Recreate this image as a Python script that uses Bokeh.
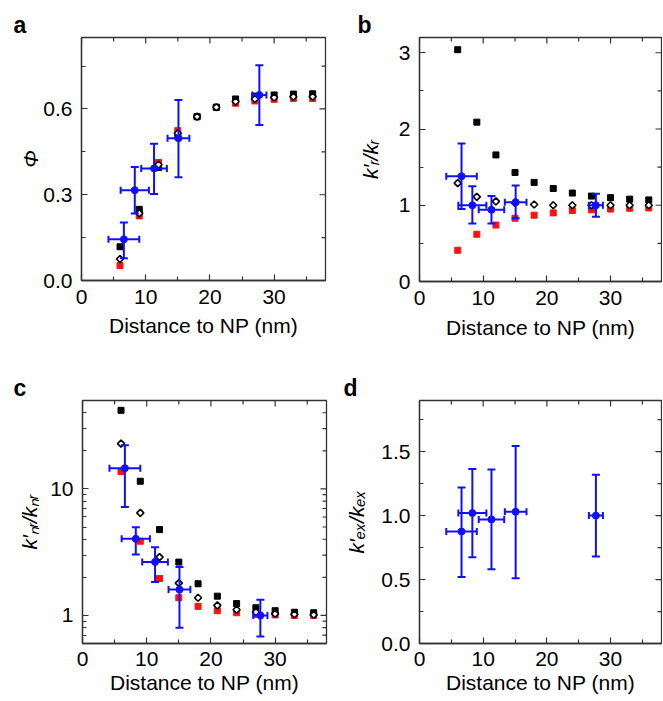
import numpy as np
from bokeh.plotting import figure
from bokeh.models import Range1d, FixedTicker, Whisker, TeeHead, ColumnDataSource
from bokeh.layouts import column, row
from bokeh.embed import file_html
from bokeh.resources import INLINE

# ---------------- data ----------------
dist = [6, 9, 12, 15, 18, 21, 24, 27, 30, 33, 36]

phi_black = [0.118, 0.249, 0.395, 0.504, 0.573, 0.606, 0.635, 0.645, 0.649, 0.652, 0.653]
phi_diamond = [0.075, 0.235, 0.405, 0.515, 0.573, 0.606, 0.626, 0.635, 0.640, 0.643, 0.643]
phi_red = [0.052, 0.226, 0.413, 0.524, 0.573, 0.606, 0.620, 0.628, 0.634, 0.637, 0.637]

kr_black = [3.04, 2.09, 1.66, 1.43, 1.30, 1.22, 1.16, 1.12, 1.10, 1.08, 1.07]
kr_diamond = [1.29, 1.11, 1.05, 1.03, 1.01, 1.00, 1.00, 1.00, 1.00, 1.00, 1.00]
kr_red = [0.41, 0.62, 0.74, 0.83, 0.87, 0.90, 0.93, 0.94, 0.95, 0.96, 0.965]

knr_black = [41.8, 11.5, 4.77, 2.64, 1.78, 1.42, 1.24, 1.15, 1.09, 1.06, 1.05]
knr_diamond = [22.8, 6.46, 2.89, 1.80, 1.38, 1.20, 1.11, 1.06, 1.03, 1.02, 1.01]
knr_red = [13.7, 3.86, 1.96, 1.38, 1.18, 1.09, 1.05, 1.02, 1.01, 1.00, 1.00]

exp_x = [6.6, 8.3, 11.3, 15.1, 27.7]
exp_xerr = [2.4, 2.2, 2.0, 1.7, 1.1]

phi_exp = [0.144, 0.316, 0.392, 0.498, 0.649]
phi_exp_lo = [0.078, 0.234, 0.303, 0.361, 0.544]
phi_exp_hi = [0.203, 0.397, 0.478, 0.631, 0.753]

kr_exp = [1.38, 1.00, 0.94, 1.04, 1.00]
kr_exp_lo = [0.95, 0.76, 0.76, 0.83, 0.85]
kr_exp_hi = [1.81, 1.25, 1.12, 1.26, 1.15]

knr_exp = [14.6, 4.03, 2.65, 1.60, 1.00]
knr_exp_lo = [7.2, 3.03, 1.84, 0.80, 0.68]
knr_exp_hi = [22.1, 4.98, 3.46, 2.42, 1.33]

kex_exp = [0.875, 1.02, 0.97, 1.03, 1.00]
kex_exp_lo = [0.52, 0.675, 0.58, 0.51, 0.68]
kex_exp_hi = [1.22, 1.365, 1.36, 1.545, 1.32]

x_ticks = [0, 10, 20, 30]
x_minor = [5, 15, 25, 35]
a_ticks = [0.0, 0.3, 0.6]
a_tick_labels = ["0.0", "0.3", "0.6"]
a_minor = [0.15, 0.45, 0.75]
b_ticks = [0, 1, 2, 3]
b_tick_labels = ["0", "1", "2", "3"]
b_minor = [0.5, 1.5, 2.5]
c_ticks = [1, 10]
c_tick_labels = ["1", "10"]
c_minor = [0.6, 0.7, 0.8, 0.9, 2, 3, 4, 5, 6, 7, 8, 9, 20, 30, 40, 50]
d_ticks = [0.0, 0.5, 1.0, 1.5]
d_tick_labels = ["0.0", "0.5", "1.0", "1.5"]
d_minor = [0.25, 0.75, 1.25, 1.75]

# ---------------- style ----------------
FONT = "Liberation Sans"
BLUE = "#1010ff"
RED = "#ff1010"
AXC = "#333333"
XLAB = "Distance to NP (nm)"
X_END = 38


def style_axis(ax, standoff):
    ax.axis_line_color = AXC
    ax.axis_line_width = 1.3
    ax.major_tick_line_color = AXC
    ax.minor_tick_line_color = AXC
    ax.major_tick_line_width = 1.2
    ax.minor_tick_line_width = 1.2
    ax.major_tick_in = 6
    ax.major_tick_out = 0
    ax.minor_tick_in = 4
    ax.minor_tick_out = 0
    ax.major_label_text_font = FONT
    ax.major_label_text_color = "black"
    ax.major_label_text_font_size = "21px"
    ax.major_label_standoff = standoff
    ax.axis_label_text_font = FONT
    ax.axis_label_text_color = "black"
    ax.axis_label_text_font_size = "21px"


def mirror_ticks(p, yt, ym):
    """Inward ticks on the top and right frame edges (dash markers clipped by the frame)."""
    ytop = p.y_range.end
    p.scatter(x_ticks, [ytop] * len(x_ticks), marker="dash", angle=np.pi / 2,
              size=12, line_color=AXC, line_width=1.2)
    p.scatter(x_minor, [ytop] * len(x_minor), marker="dash", angle=np.pi / 2,
              size=8, line_color=AXC, line_width=1.2)
    p.scatter([X_END] * len(yt), yt, marker="dash", size=12, line_color=AXC, line_width=1.2)
    p.scatter([X_END] * len(ym), ym, marker="dash", size=8, line_color=AXC, line_width=1.2)


def make_panel(letter, letter_off, yr, ylog, yt, ytl, ym, fw, fh, bl, br, bt, bb,
               ylabel, ylab_standoff, x_std, xlab_std):
    p = figure(frame_width=fw, frame_height=fh,
               min_border_left=bl, min_border_right=br,
               min_border_top=bt, min_border_bottom=bb,
               x_range=Range1d(0, X_END), y_range=Range1d(*yr),
               y_axis_type="log" if ylog else "linear",
               output_backend="svg", toolbar_location=None)
    p.grid.visible = False
    p.outline_line_color = AXC
    p.outline_line_width = 1.3
    p.background_fill_color = "white"
    p.border_fill_color = "white"

    xa = p.below[0]
    ya = p.left[0]
    xa.ticker = FixedTicker(ticks=x_ticks, minor_ticks=x_minor)
    ya.ticker = FixedTicker(ticks=yt, minor_ticks=ym)
    ya.major_label_overrides = {t: l for t, l in zip(yt, ytl)}
    style_axis(xa, x_std)
    style_axis(ya, 9)
    ya.axis_label = ylabel
    ya.axis_label_text_font_style = "italic"
    ya.axis_label_standoff = ylab_standoff
    xa.axis_label = XLAB
    xa.axis_label_text_font_style = "normal"
    xa.axis_label_standoff = xlab_std

    p.title.text = letter
    p.title.align = "left"
    p.title.offset = letter_off
    p.title.standoff = 0
    p.title.text_font = FONT
    p.title.text_font_style = "bold"
    p.title.text_font_size = "23px"
    p.title.text_color = "black"

    mirror_ticks(p, yt, ym)
    return p


def add_model(p, yb, yd, yr_):
    p.scatter(dist, yr_, marker="square", size=6, color=RED)
    p.scatter(dist, yb, marker="square", size=6, color="black")
    p.scatter(dist, yd, marker="square", angle=np.pi / 4, size=5,
              fill_color="white", line_color="black", line_width=1.6)


def add_exp(p, y, lo, hi):
    src = ColumnDataSource(dict(
        x=exp_x, y=y, yl=lo, yu=hi,
        xl=[a - b for a, b in zip(exp_x, exp_xerr)],
        xu=[a + b for a, b in zip(exp_x, exp_xerr)]))
    p.add_layout(Whisker(source=src, base="x", lower="yl", upper="yu",
                         dimension="height", line_color=BLUE, line_width=2,
                         level="annotation",
                         upper_head=TeeHead(size=8, line_color=BLUE, line_width=2),
                         lower_head=TeeHead(size=8, line_color=BLUE, line_width=2)))
    p.add_layout(Whisker(source=src, base="y", lower="xl", upper="xu",
                         dimension="width", line_color=BLUE, line_width=2,
                         level="annotation",
                         upper_head=TeeHead(size=7, line_color=BLUE, line_width=2),
                         lower_head=TeeHead(size=7, line_color=BLUE, line_width=2)))
    p.scatter("x", "y", source=src, marker="circle", size=7, color=BLUE)


# ---------------- panels ----------------
pa = make_panel("a", -68, (0, 0.85), False, a_ticks, a_tick_labels, a_minor,
                244, 243, 81, 10, 37, 72, "Φ", -2, 9, 7)
add_model(pa, phi_black, phi_diamond, phi_red)
add_exp(pa, phi_exp, phi_exp_lo, phi_exp_hi)

pb = make_panel("b", -62, (0, 3.2), False, b_ticks, b_tick_labels, b_minor,
                242, 244, 84, 1, 34, 74, "k′ᵣ/kᵣ", 14, 9, 8)
add_model(pb, kr_black, kr_diamond, kr_red)
add_exp(pb, kr_exp, kr_exp_lo, kr_exp_hi)

pc = make_panel("c", -69, (0.6, 50), True, c_ticks, c_tick_labels, c_minor,
                244, 243, 82, 9, 48, 57, "k′ₙᵣ/kₙᵣ", 6, 8, 2)
add_model(pc, knr_black, knr_diamond, knr_red)
add_exp(pc, knr_exp, knr_exp_lo, knr_exp_hi)

pd_ = make_panel("d", -76, (0, 1.9), False, d_ticks, d_tick_labels, d_minor,
                 242, 243, 84, 1, 48, 57, "k′ₑₓ/kₑₓ", 10, 8, 2)
add_exp(pd_, kex_exp, kex_exp_lo, kex_exp_hi)

layout = column(row(pa, pb), row(pc, pd_))
open("out.html", "w").write(file_html(layout, INLINE))
